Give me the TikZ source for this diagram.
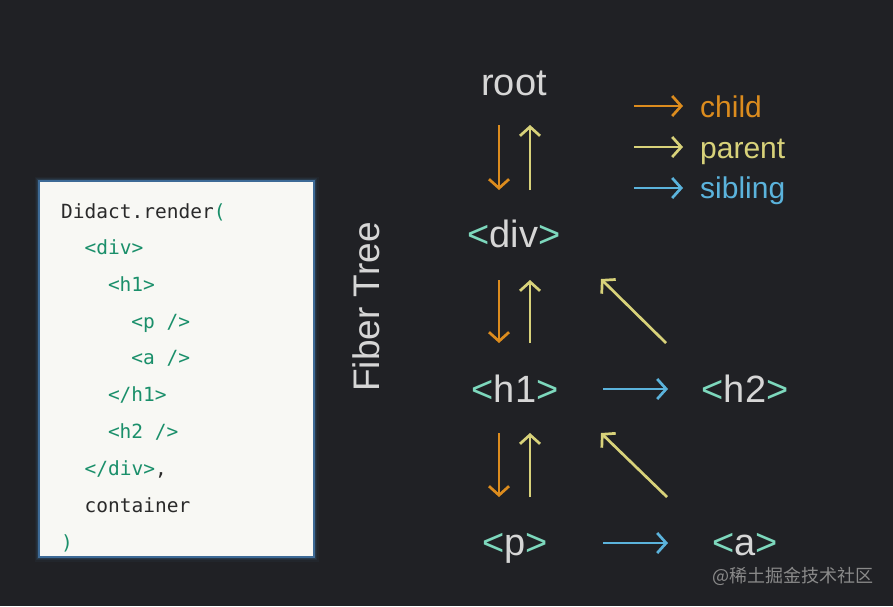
\documentclass[tikz,border=0pt]{standalone}
\usepackage{fontspec}
\setmainfont{Liberation Sans}
\newfontfamily\codefont{DejaVu Sans Mono}
\newfontfamily\cjkfont{Noto Sans CJK SC}
\usetikzlibrary{arrows.meta,calc}
\definecolor{bg}{HTML}{202125}
\definecolor{codebg}{HTML}{F8F8F4}
\definecolor{codeframe}{HTML}{3D6A96}
\definecolor{codeblack}{HTML}{2A2A2A}
\definecolor{codegreen}{HTML}{1A8F6A}
\definecolor{corange}{HTML}{DC8C1E}
\definecolor{cyellow}{HTML}{D8D27A}
\definecolor{cblue}{HTML}{5BB3DC}
\definecolor{cteal}{HTML}{7DD8BD}
\definecolor{cwhite}{HTML}{D6D6D6}
\definecolor{cgrey}{HTML}{8A8A8A}
\newcommand{\tg}[1]{{\color{cteal}<}{\color{cwhite}#1}{\color{cteal}>}}
\newcommand{\cg}[1]{{\color{codegreen}#1}}
\tikzset{
  tagnode/.style={font=\fontsize{38}{40}\selectfont, text=cwhite, anchor=base, inner sep=0pt},
  legnode/.style={font=\fontsize{30}{32}\selectfont, anchor=base west, inner sep=0pt},
  codeline/.style={font=\codefont\fontsize{19.5}{22}\selectfont, text=codeblack, anchor=base west, inner sep=0pt},
  arr/.style={line width=2.7pt, -{Straight Barb[length=9pt,width=20pt,line width=2.7pt]}},
  childarr/.style={arr, draw=corange},
  parentarr/.style={arr, draw=cyellow},
  siblingarr/.style={arr, draw=cblue},
}
\begin{document}
\begin{tikzpicture}[x=1pt,y=-1pt]
\fill[bg] (0,0) rectangle (893,606);
\useasboundingbox (0,0) rectangle (893,606);
% code box glow
\foreach \w/\o in {9/0.07,6/0.12,3.5/0.2} {
  \draw[codeframe, line width=\w pt, opacity=\o] (39,181) rectangle (314,557);
}
\draw[codeframe, line width=1.5pt, fill=codebg] (39,181) rectangle (314,557);
\node[codeline] (c1) at (61,218) {Didact.render\cg{(}};
\node[codeline] (c2) at (84.4,254) {\cg{<div>}};
\node[codeline] (c3) at (107.8,291) {\cg{<h1>}};
\node[codeline] (c4) at (131.2,328) {\cg{<p />}};
\node[codeline] (c5) at (131.2,364) {\cg{<a />}};
\node[codeline] (c6) at (107.8,401) {\cg{</h1>}};
\node[codeline] (c7) at (107.8,438) {\cg{<h2 />}};
\node[codeline] (c8) at (84.4,475) {\cg{</div>},};
\node[codeline] (c9) at (84.4,512) {container};
\node[codeline] (c10) at (61,549) {\cg{)}};
% Fiber Tree label
\node[font=\fontsize{37}{40}\selectfont, text=cwhite, rotate=90, inner sep=0pt] (ft) at (366,307) {Fiber Tree};
% tree nodes
\node[tagnode] (root) at (514,95) {root};
\node[tagnode] (div) at (514,247) {\tg{div}};
\node[tagnode] (h1) at (515,402) {\tg{h1}};
\node[tagnode] (p) at (515,555) {\tg{p}};
\node[tagnode] (h2) at (745,402) {\tg{h2}};
\node[tagnode] (a) at (745,555) {\tg{a}};
% vertical child/parent arrows
\draw[childarr] ($(root.base)+(-15,30)$) -- ($(div.base)+(-15,-57)$);
\draw[parentarr] ($(div.base)+(16,-57)$) -- ($(root.base)+(16,30)$);
\draw[childarr] ($(div.base)+(-15,33)$) -- ($(h1.base)+(-16,-59)$);
\draw[parentarr] ($(h1.base)+(15,-59)$) -- ($(div.base)+(16,33)$);
\draw[childarr] ($(h1.base)+(-16,31)$) -- ($(p.base)+(-16,-58)$);
\draw[parentarr] ($(p.base)+(15,-58)$) -- ($(h1.base)+(15,31)$);
% diagonal parent arrows
\draw[parentarr] ($(h2.base)+(-79,-59)$) -- ($(div.base)+(87,32)$);
\draw[parentarr] ($(a.base)+(-78,-58)$) -- ($(h1.base)+(86,31)$);
% sibling arrows
\draw[siblingarr] ($(h1.base)+(88,-13)$) -- ($(h2.base)+(-77,-13)$);
\draw[siblingarr] ($(p.base)+(88,-12)$) -- ($(a.base)+(-77,-12)$);
% legend
\node[legnode, text=corange] (lchild) at (700,117) {child};
\node[legnode, text=cyellow] (lparent) at (700,158) {parent};
\node[legnode, text=cblue] (lsibling) at (700,198) {sibling};
\coordinate (lc1) at (634,106);
\coordinate (lc2) at (634,147);
\coordinate (lc3) at (634,188);
\draw[childarr] (lc1) -- ($(lchild.base west)+(-17,-11)$);
\draw[parentarr] (lc2) -- ($(lparent.base west)+(-17,-11)$);
\draw[siblingarr] (lc3) -- ($(lsibling.base west)+(-17,-10)$);
% watermark
\node[font=\cjkfont\fontsize{18}{20}\selectfont, text=cgrey, anchor=base west, inner sep=0pt] (wm) at (712,582) {@稀土掘金技术社区};
\end{tikzpicture}
\end{document}
